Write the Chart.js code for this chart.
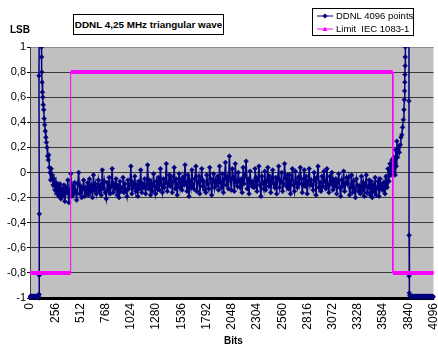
<!DOCTYPE html>
<html><head><meta charset="utf-8">
<script src="https://cdn.jsdelivr.net/npm/chart.js@4.4.0/dist/chart.umd.min.js"></script>
<style>
html,body{margin:0;padding:0;background:#fff;}
#wrap{position:relative;width:438px;height:347px;overflow:hidden;font-family:"Liberation Sans",Arial,sans-serif;}
#c{position:absolute;left:0;top:0;}
.lbl{position:absolute;font-weight:bold;font-size:10px;color:#000;white-space:nowrap;line-height:12px;}
#title{position:absolute;left:73px;top:14px;width:151px;height:21px;border:1px solid #000;background:#fff;font-weight:bold;font-size:9.9px;line-height:20px;text-align:center;white-space:nowrap;box-sizing:border-box;}
#legend{position:absolute;left:312px;top:8px;width:102px;height:28px;border:1px solid #000;background:#fff;font-size:9.5px;box-sizing:border-box;}
.row{position:absolute;left:4px;height:12px;line-height:12px;white-space:nowrap;}
.row svg{position:absolute;left:0;top:2px;}
.row span{position:absolute;left:19px;top:0;}
</style>
</head><body>
<div id="wrap">
<canvas id="c" width="438" height="347"></canvas>
<div id="title">DDNL 4,25 MHz triangular wave</div>
<div id="legend">
 <div class="row" style="top:1px"><svg width="16" height="8"><line x1="0" y1="4" x2="16" y2="4" stroke="#000080" stroke-width="1"/><path d="M8 1.5 L10.5 4 L8 6.5 L5.5 4Z" fill="#000080"/></svg><span>DDNL 4096 points</span></div>
 <div class="row" style="top:14px"><svg width="16" height="8"><line x1="0" y1="4" x2="16" y2="4" stroke="#FF00FF" stroke-width="1"/><path d="M8 1.5 L10.5 6 L5.5 6Z" fill="#FF00FF"/></svg><span>Limit&nbsp; IEC 1083-1</span></div>
</div>
<div class="lbl" style="left:10px;top:24px;">LSB</div>
<div class="lbl" style="left:224px;top:335px;">Bits</div>
</div>
<script>
// ---- DDNL series ----
const ddnlStartBits = [0,6,12,18,24,30,36,42,48,54,60,66,72,78,84,88,92,94,94,91,95,114,116,118,120,123,126,130,134,139,144,149,155,161,167,173,179,185,191,197,203,209,215];
const ddnlStartVals = [-0.99,-0.99,-0.985,-0.99,-0.99,-0.985,-0.99,-0.99,-0.99,-0.985,-0.99,-0.99,-0.985,-0.99,-0.98,-0.99,-0.97,-0.82,-0.33,0.77,1.3,1.3,1.0,0.92,0.8,0.72,0.64,0.6,0.54,0.5,0.43,0.38,0.33,0.28,0.24,0.2,0.13,0.1,0.14,0.04,0.0,-0.06,0.03];

const midFirstBit = 224;
const midStepBits = 10;
const ddnlMidVals = [
 -0.02,-0.1,-0.05,-0.14,-0.08,-0.17,-0.11,-0.19,-0.09,-0.21,-0.13,-0.18,
 -0.1,-0.23,-0.12,-0.16,-0.06,-0.24,-0.14,-0.01,-0.19,-0.11,-0.17,-0.08,
 -0.15,-0.22,-0.09,0.0,-0.17,-0.11,-0.2,-0.13,-0.06,-0.19,-0.12,-0.16,
 -0.08,-0.18,-0.05,-0.15,-0.1,-0.2,-0.02,-0.14,-0.09,-0.17,-0.12,-0.06,
 -0.15,-0.1,-0.18,0.02,-0.13,-0.07,-0.16,-0.21,-0.08,-0.14,-0.04,-0.17,
 -0.11,0.03,-0.16,-0.09,-0.13,-0.05,-0.18,-0.1,-0.2,-0.07,-0.15,-0.12,
 -0.04,-0.16,-0.09,-0.14,-0.19,-0.06,-0.13,-0.1,0.05,-0.17,-0.08,-0.12,
 -0.03,-0.15,-0.1,-0.19,-0.07,-0.13,0.02,-0.16,-0.09,-0.12,-0.05,-0.17,
 -0.1,0.06,-0.13,-0.06,-0.18,-0.09,-0.15,-0.01,-0.11,-0.17,-0.07,-0.13,
 -0.04,-0.14,0.03,-0.1,-0.16,-0.05,-0.12,-0.08,0.07,-0.15,-0.09,-0.02,
 -0.11,-0.03,-0.16,-0.07,0.04,-0.13,-0.05,-0.18,-0.09,-0.01,-0.12,-0.06,
 -0.14,-0.04,-0.1,0.06,-0.08,-0.15,-0.02,-0.19,-0.07,-0.12,0.02,-0.1,
 -0.13,-0.05,0.05,-0.15,-0.08,-0.03,-0.17,-0.06,0.03,-0.11,-0.07,-0.14,
 -0.16,-0.02,-0.09,-0.13,0.04,-0.05,-0.18,-0.08,-0.01,-0.12,-0.06,-0.1,
 -0.03,-0.14,0.05,-0.08,-0.12,-0.01,-0.16,-0.05,0.08,-0.1,-0.04,-0.13,
 0.13,-0.06,-0.14,0.03,-0.04,-0.15,0.07,-0.08,-0.11,0.0,-0.07,-0.12,
 -0.05,-0.16,0.04,-0.09,-0.02,0.09,-0.13,-0.05,-0.17,0.01,-0.08,-0.11,
 -0.07,-0.12,0.03,-0.04,-0.15,-0.06,0.05,-0.1,-0.19,-0.03,-0.08,-0.13,
 0.01,-0.14,-0.07,0.04,-0.11,-0.03,-0.16,-0.06,0.02,-0.09,-0.12,-0.04,
 -0.17,-0.05,0.05,-0.12,-0.07,0.0,-0.15,-0.09,0.07,-0.05,-0.11,-0.02,
 -0.13,-0.02,-0.17,-0.06,0.03,-0.1,-0.15,0.01,-0.08,-0.12,-0.04,-0.09,
 0.04,-0.05,-0.16,-0.09,0.02,-0.11,-0.03,-0.17,-0.07,0.03,-0.1,-0.06,
 -0.1,-0.14,0.0,-0.06,-0.18,-0.04,0.05,-0.12,-0.08,-0.15,-0.03,-0.11,
 0.01,-0.07,-0.13,0.03,-0.1,-0.16,-0.03,-0.09,0.0,-0.14,-0.06,-0.11,
 -0.05,-0.17,-0.08,-0.01,-0.12,-0.19,-0.06,-0.11,0.01,-0.15,-0.09,-0.04,
 -0.09,-0.04,-0.18,-0.12,-0.02,-0.16,-0.07,-0.13,-0.2,-0.05,-0.1,-0.15,
 -0.11,-0.17,-0.03,-0.14,-0.08,-0.19,-0.1,-0.02,-0.16,-0.12,-0.06,-0.18,
 -0.07,-0.2,-0.1,-0.15,-0.04,-0.18,-0.12,-0.07,-0.19,-0.05,-0.13,-0.09,
 -0.14,-0.08,-0.17,-0.03,-0.12,0.03,-0.07,0.07,-0.02,0.1,0.0,0.12
];

const ddnlEndBits = [3700,3706,3712,3718,3724,3730,3740,3750,3758,3766,3774,3782,3790,3796,3800,3803,3805,3806,3808,3809,3810,3812,3847,3847,3848,3848,3850,3856,3862,3868,3874,3880,3886,3892,3898,3904,3910,3916,3922,3928,3934,3940,3946,3952,3958,3964,3970,3976,3982,3988,3994,4000,4006,4012,4018,4024,4030,4036,4042,4048,4054,4060,4066,4072,4078,4084,4090,4096];
const ddnlEndVals = [0.1,-0.02,0.18,0.05,0.25,0.12,0.2,0.16,0.22,0.28,0.3,0.36,0.42,0.5,0.58,0.65,0.72,0.78,0.85,0.92,1.0,1.3,1.3,0.57,-0.5,-0.825,-0.96,-0.98,-0.99,-0.985,-0.99,-0.99,-0.985,-0.99,-0.99,-0.99,-0.985,-0.99,-0.99,-0.985,-0.99,-0.99,-0.99,-0.985,-0.99,-0.99,-0.985,-0.99,-0.99,-0.99,-0.985,-0.99,-0.99,-0.985,-0.99,-0.99,-0.99,-0.985,-0.99,-0.99,-0.985,-0.99,-0.99,-0.99,-0.985,-0.99,-0.99,-0.99];

// ---- Limit IEC 1083-1 ----
const limitBits = [0,413,413,3683,3683,4096];
const limitVals = [-0.8,-0.8,0.8,0.8,-0.8,-0.8];

// ---- axes ----
const xMin = 0, xMax = 4096, xStep = 256;
const yMin = -1, yMax = 1, yStep = 0.2;

const ddnlPoints = []
  .concat(ddnlStartBits.map((b,i)=>({x:b,y:ddnlStartVals[i]})))
  .concat(ddnlMidVals.map((v,i)=>({x:midFirstBit+i*midStepBits,y:v})))
  .concat(ddnlEndBits.map((b,i)=>({x:b,y:ddnlEndVals[i]})));
const limitPoints = limitBits.map((b,i)=>({x:b,y:limitVals[i]}));

const plotBg = {
  id:'plotBg',
  beforeDraw(chart){
    const {ctx, chartArea:a} = chart;
    ctx.save();
    ctx.fillStyle = '#C0C0C0';
    ctx.fillRect(a.left, a.top, a.right-a.left, a.bottom-a.top);
    ctx.restore();
  }
};

new Chart(document.getElementById('c'), {
  type:'scatter',
  data:{datasets:[
    {label:'Limit  IEC 1083-1', data:limitPoints, showLine:true, order:0,
     borderColor:'#FF00FF', backgroundColor:'#FF00FF', borderWidth:1,
     pointRadius:0, tension:0,
     segment:{borderWidth: c => (c.p0.parsed.y === c.p1.parsed.y ? 4 : 1)},
     clip:{left:0,top:0,right:2,bottom:0}},
    {label:'DDNL 4096 points', data:ddnlPoints, showLine:true, order:1,
     borderColor:'#000080', backgroundColor:'#000080', borderWidth:1.5,
     pointStyle:'rectRot', pointRadius:2.4, pointBorderWidth:0.5, pointBorderColor:'#000080',
     tension:0, clip:{left:2,top:0,right:2,bottom:3}}
  ]},
  options:{
    responsive:false, animation:false, events:[],
    layout:{padding:{top:47,right:1,left:0,bottom:0}},
    plugins:{legend:{display:false}, title:{display:false}, tooltip:{enabled:false}},
    scales:{
      x:{type:'linear', min:xMin, max:xMax,
         afterFit: s => { s.height = 49; s.paddingLeft = 0; s.paddingRight = 0; },
         ticks:{stepSize:xStep, autoSkip:false, maxRotation:90, minRotation:90, padding:5,
                color:'#000', font:{family:'"Liberation Sans", Arial, sans-serif', size:12},
                callback: v => String(v)},
         grid:{display:true, color:'rgba(0,0,0,0)', drawTicks:false},
         border:{display:true, color:'#000', width:3}},
      y:{type:'linear', min:yMin, max:yMax,
         afterFit: s => { s.width = 30; },
         ticks:{stepSize:yStep, padding:1, color:'#000',
                font:{family:'"Liberation Sans", Arial, sans-serif', size:11},
                callback: v => String(Math.round(v*10)/10).replace('.', ',')},
         grid:{color: c => (c.tick && c.tick.value === 1 ? '#8a8a8a' : '#3a3a3a'), lineWidth:1,
               tickLength:3, tickColor:'#000', drawTicks:true},
         border:{display:true, color:'#404040', width:1}}
    }
  },
  plugins:[plotBg]
});
</script>
</body></html>
